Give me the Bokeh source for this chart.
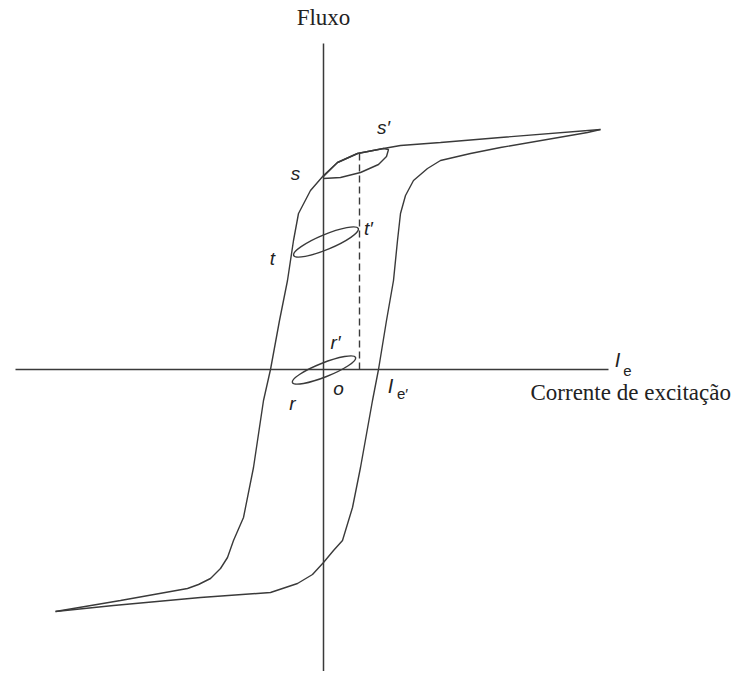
from bokeh.plotting import figure
from bokeh.models import Range1d
from bokeh.embed import file_html
from bokeh.resources import INLINE
from bokeh.core.properties import value
import math

# Hysteresis loop (current, flux) in drawing units, origin at axes crossing
desc_i = [277, 177, 117, 77, 60, 34, 14, 0, -13, -25, -30, -36, -44, -53, -60, -70, -80, -90, -96, -103, -113, -125, -136, -203, -268]
desc_f = [240, 232, 227, 224, 221, 216, 207, 194, 179, 156, 129, 89, 49, 0, -31, -98, -148, -171, -188, -199, -209, -215, -219, -231, -242]

asc_i = [-268, -210, -123, -53, -26, -11, 0, 10, 19, 29, 37, 49, 55, 63, 70, 74, 77, 82, 90, 104, 117, 147, 177, 264, 277]
asc_f = [-242, -236, -228, -223, -214, -205, -193, -181, -171, -138, -98, -31, 0, 49, 89, 129, 156, 174, 189, 201, 209, 216, 222, 237, 240]

# minor loop s-s'
s_loop_i = [0, 14, 34, 60, 65, 63, 55, 37, 17, 0]
s_loop_f = [193, 207, 216, 221, 220, 213, 205, 197, 192, 191]

# minor loops t-t' and r-r' (centre, length, thickness, tilt in degrees)
ell_i = [2.5, 0.5]
ell_f = [127.5, -0.5]
ell_len = [70, 68]
ell_thk = [15, 14]
ell_ang = [22.6, 21.6]

# dashed line at I_e'
ie_prime = 36
dash_top = 216

# axes extents
h_axis = [-308, 285]
v_axis = [326, -318]

# labels
lab_text = ["s", "s\u2032", "t", "t\u2032", "r\u2032", "r", "o"]
lab_x = [-28, 60, -51, 45, 12, -31, 15]
lab_y = [196, 242, 111, 141, 27, -34, -19]

ink = "#3a3a3a"

p = figure(width=732, height=671, output_backend="svg", toolbar_location=None,
           x_range=Range1d(-323, 409), y_range=Range1d(-302, 369),
           min_border=0)
p.axis.visible = False
p.grid.visible = False
p.outline_line_color = None
p.background_fill_color = "white"

p.line(h_axis, [0, 0], line_color=ink, line_width=1.5)
p.line([0, 0], v_axis, line_color=ink, line_width=1.5)

p.line(desc_i, desc_f, line_color=ink, line_width=1.4)
p.line(asc_i, asc_f, line_color=ink, line_width=1.4)
p.line(s_loop_i, s_loop_f, line_color=ink, line_width=1.4)

p.ellipse(x=ell_i, y=ell_f, width=ell_len, height=ell_thk,
          angle=[a * math.pi / 180 for a in ell_ang],
          fill_color=None, line_color=ink, line_width=1.4)

p.line([ie_prime, ie_prime], [dash_top, 0], line_color=ink, line_width=1.4, line_dash="7 4")

p.text(x=lab_x, y=lab_y, text=lab_text, text_font=value("Liberation Sans"),
       text_font_style="italic", text_font_size="19px", text_color="#222222",
       text_align="center", text_baseline="middle")

# axis titles
p.text(x=[0], y=[352], text=["Fluxo"], text_font=value("Liberation Serif"),
       text_font_size="23px", text_color="#222222", text_align="center", text_baseline="middle")
p.text(x=[207], y=[-23], text=["Corrente de excitação"], text_font=value("Liberation Serif"),
       text_font_size="23px", text_color="#222222", text_align="left", text_baseline="middle")

# I_e symbols
p.text(x=[294, 67], y=[10, -16], text=["I", "I"], text_font=value("Liberation Sans"),
       text_font_style="italic", text_font_size="20px", text_color="#222222",
       text_align="center", text_baseline="middle")
p.text(x=[304, 79], y=[-1, -24], text=["e", "e\u2032"], text_font=value("Liberation Sans"),
       text_font_size="15px", text_color="#222222",
       text_align="center", text_baseline="middle")

open("out.html", "w").write(file_html(p, INLINE))
